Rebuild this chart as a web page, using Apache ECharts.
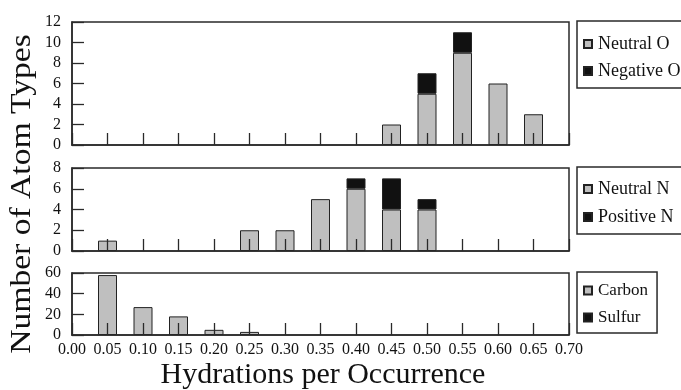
<!DOCTYPE html>
<html>
<head>
<meta charset="utf-8">
<script src="https://cdn.jsdelivr.net/npm/echarts@6/dist/echarts.min.js"></script>
<style>
html,body{margin:0;padding:0;background:#fff;}
#c{width:681px;height:390px;}
</style>
</head>
<body>
<div id="c"></div>
<script>
// ---- data ----
var xLabels = ['0.00', '0.05', '0.10', '0.15', '0.20', '0.25', '0.30', '0.35', '0.40', '0.45', '0.50', '0.55', '0.60', '0.65', '0.70'];
var hydrations = ['0.05', '0.10', '0.15', '0.20', '0.25', '0.30', '0.35', '0.40', '0.45', '0.50', '0.55', '0.60', '0.65'];
var neutralO  = [0, 0, 0, 0, 0, 0, 0, 0, 2, 5, 9, 6, 3];
var negativeO = [0, 0, 0, 0, 0, 0, 0, 0, 0, 2, 2, 0, 0];
var neutralN  = [1, 0, 0, 0, 2, 2, 5, 6, 4, 4, 0, 0, 0];
var positiveN = [0, 0, 0, 0, 0, 0, 0, 1, 3, 1, 0, 0, 0];
var carbon    = [58, 27, 18, 5, 3, 0, 0, 0, 0, 0, 0, 0, 0];
var sulfur    = [0, 0, 0, 0, 0, 0, 0, 0, 0, 0, 0, 0, 0];
var yTop = {min: 0, max: 12, interval: 2};
var yMid = {min: 0, max: 8, interval: 2};
var yBot = {min: 0, max: 60, interval: 20};
var xTitle = 'Hydrations per Occurrence';
var yTitle = 'Number of Atom Types';

var SERIF = '"Liberation Serif", "Times New Roman", serif';
var GREY = '#bfbfbf', BLACK = '#111', LINE = '#2a2a2a';

function seriesData(arr) {
  return xLabels.map(function (lab) {
    var i = hydrations.indexOf(lab);
    return (i >= 0 && arr[i]) ? arr[i] : '-';
  });
}

var grids = [
  {left: 72, right: 112, top: 22, height: 123},
  {left: 72, right: 112, top: 168, height: 83},
  {left: 72, right: 112, top: 273, height: 62}
].map(function (g) {
  g.show = true; g.borderColor = LINE; g.borderWidth = 1.5; g.backgroundColor = 'transparent';
  return g;
});

function xAxis(i, showLabel) {
  return {
    type: 'category', gridIndex: i, data: xLabels, boundaryGap: false,
    z: 5,
    axisLine: {show: true, lineStyle: {color: LINE, width: 1.5}},
    axisTick: {show: true, inside: true, length: 12, interval: 0, lineStyle: {color: LINE, width: 1.3}},
    splitLine: {show: false},
    axisLabel: {show: showLabel, interval: 0, margin: 7, color: '#111', fontFamily: SERIF, fontSize: 16}
  };
}
function yAxis(i, s) {
  return {
    type: 'value', gridIndex: i, min: s.min, max: s.max, interval: s.interval,
    z: 5,
    axisLine: {show: true, lineStyle: {color: LINE, width: 1.5}},
    axisTick: {show: true, inside: true, length: 12, lineStyle: {color: LINE, width: 1.3}},
    splitLine: {show: false},
    axisLabel: {show: true, margin: 11, color: '#111', fontFamily: SERIF, fontSize: 16}
  };
}

function bar(name, arr, gi, stack, color) {
  return {
    name: name, type: 'bar', xAxisIndex: gi, yAxisIndex: gi, stack: stack,
    barWidth: 19, z: 2,
    itemStyle: {color: color, borderColor: '#222', borderWidth: 1},
    data: seriesData(arr)
  };
}

function legend(names, top, fontSize, padding, gap) {
  return {
    data: names, left: 577, top: top, orient: 'vertical', selectedMode: false,
    itemWidth: 8, itemHeight: 8, itemGap: gap,
    borderColor: LINE, borderWidth: 1.5, padding: padding,
    icon: 'rect',
    textStyle: {fontFamily: SERIF, fontSize: fontSize, color: '#111', padding: [0, 0, 0, 1]}
  };
}

var option = {
  animation: false,
  backgroundColor: '#fff',
  grid: grids,
  xAxis: [xAxis(0, false), xAxis(1, false), xAxis(2, true)],
  yAxis: [yAxis(0, yTop), yAxis(1, yMid), yAxis(2, yBot)],
  legend: [
    legend(['Neutral O', 'Negative O'], 21, 18, [14, 30, 8, 6], 9),
    legend(['Neutral N', 'Positive N'], 167, 18, [13, 30, 8, 6], 10),
    legend(['Carbon', 'Sulfur'], 272, 17, [10, 9, 7, 6], 10)
  ],
  series: [
    bar('Neutral O', neutralO, 0, 'O', GREY),
    bar('Negative O', negativeO, 0, 'O', BLACK),
    bar('Neutral N', neutralN, 1, 'N', GREY),
    bar('Positive N', positiveN, 1, 'N', BLACK),
    bar('Carbon', carbon, 2, 'C', GREY),
    bar('Sulfur', sulfur, 2, 'C', BLACK)
  ],
  graphic: [
    {type: 'text', x: 323, y: 375, style: {text: xTitle, font: '30px ' + SERIF, fill: '#111', align: 'center', verticalAlign: 'middle'}},
    {type: 'text', x: 22, y: 194, rotation: Math.PI / 2, scaleX: 1.12, style: {text: yTitle, font: '30px ' + SERIF, fill: '#111', align: 'center', verticalAlign: 'middle'}}
  ]
};

var chart = echarts.init(document.getElementById('c'), null, {renderer: 'canvas'});
chart.setOption(option);
</script>
</body>
</html>
